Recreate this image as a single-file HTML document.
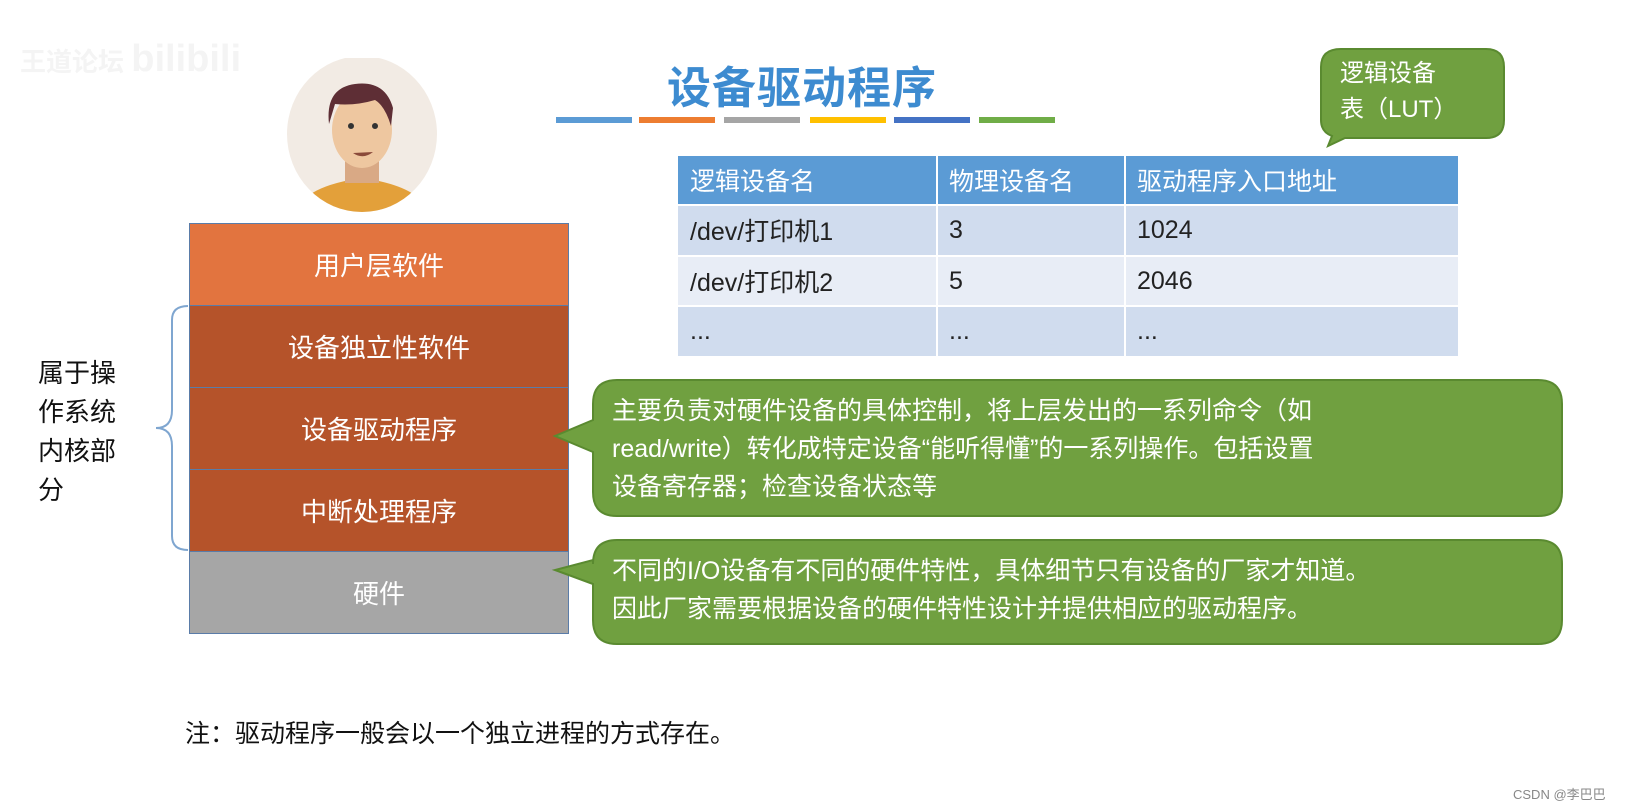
<!DOCTYPE html>
<html><head><meta charset="utf-8">
<style>
*{margin:0;padding:0;box-sizing:border-box}
body{width:1628px;height:809px;background:#fff;position:relative;overflow:hidden;font-family:"Liberation Sans","Noto Sans CJK SC",sans-serif}
.a{position:absolute}
.row{position:absolute;left:189px;width:380px;color:#fff;font-size:26px;display:flex;align-items:center;justify-content:center;border:1px solid #5a7ca8;border-top:none}
.cell{position:absolute;font-size:25px;display:flex;align-items:center;padding-left:12px;color:#222}
.t{color:#fff;font-size:25px;line-height:38px}
</style></head><body>
<div class="a" style="left:20px;top:38px;font-size:26px;color:#f4f4f4;font-weight:bold">王道论坛 <span style="font-size:38px">bilibili</span></div>
<div class="a" style="left:667px;top:52px;font-size:44px;color:#3d8bd0;font-weight:bold;letter-spacing:1px">设备驱动程序</div>
<div class="a" style="left:556px;top:117px;width:76px;height:6px;background:#5b9bd5"></div>
<div class="a" style="left:639px;top:117px;width:76px;height:6px;background:#ed7d31"></div>
<div class="a" style="left:724px;top:117px;width:76px;height:6px;background:#a5a5a5"></div>
<div class="a" style="left:810px;top:117px;width:76px;height:6px;background:#ffc000"></div>
<div class="a" style="left:894px;top:117px;width:76px;height:6px;background:#4472c4"></div>
<div class="a" style="left:979px;top:117px;width:76px;height:6px;background:#70ad47"></div>
<svg class="a" style="left:285px;top:58px" width="154" height="154" viewBox="0 0 154 154">
<defs><clipPath id="c"><ellipse cx="77" cy="76" rx="75" ry="78"/></clipPath></defs>
<ellipse cx="77" cy="76" rx="75" ry="78" fill="#f2ebe4"/>
<g clip-path="url(#c)">
<path d="M10 154 Q20 128 77 120 Q134 128 144 154Z" fill="#e3a03a"/>
<rect x="60" y="95" width="34" height="30" fill="#d9a985"/>
<ellipse cx="77" cy="72" rx="30" ry="38" fill="#eec7a0"/>
<path d="M44 66 Q40 30 70 26 Q100 22 108 50 L106 68 Q100 48 90 42 Q70 48 50 46 Z" fill="#5e2e35"/>
<circle cx="66" cy="68" r="3" fill="#333"/><circle cx="90" cy="68" r="3" fill="#333"/>
<path d="M68 95 Q78 102 88 94 Z" fill="#8a4a3a"/>
</g></svg>
<div class="row" style="top:223px;height:83px;background:#e2743f;border-top:1px solid #5a7ca8">用户层软件</div>
<div class="row" style="top:306px;height:82px;background:#b5532a">设备独立性软件</div>
<div class="row" style="top:388px;height:82px;background:#b5532a">设备驱动程序</div>
<div class="row" style="top:470px;height:82px;background:#b5532a">中断处理程序</div>
<div class="row" style="top:552px;height:82px;background:#a6a6a6">硬件</div>
<svg class="a" style="left:150px;top:300px" width="45" height="256"><path d="M38 6 Q22 6 22 20 L22 110 Q22 128 6 128 Q22 128 22 146 L22 236 Q22 250 38 250" fill="none" stroke="#7fa6d0" stroke-width="2"/></svg>
<div class="a" style="left:38px;top:354px;font-size:26px;line-height:39px;color:#111;width:100px">属于操<br>作系统<br>内核部<br>分</div>
<div class="a" style="left:678px;top:156px;width:780px;height:48px;background:#5b9bd5"></div>
<div class="a" style="left:678px;top:204px;width:780px;height:52px;background:#d0dcee"></div>
<div class="a" style="left:678px;top:256px;width:780px;height:50px;background:#e8edf6"></div>
<div class="a" style="left:678px;top:306px;width:780px;height:50px;background:#d0dcee"></div>
<div class="a" style="left:936px;top:156px;width:2px;height:200px;background:#fff"></div>
<div class="a" style="left:1124px;top:156px;width:2px;height:200px;background:#fff"></div>
<div class="a" style="left:678px;top:204px;width:780px;height:2px;background:#fff"></div>
<div class="a" style="left:678px;top:255px;width:780px;height:2px;background:#fff"></div>
<div class="a" style="left:678px;top:305px;width:780px;height:2px;background:#fff"></div>
<div class="cell" style="left:678px;top:156px;height:48px;color:#fff">逻辑设备名</div>
<div class="cell" style="left:937px;top:156px;height:48px;color:#fff">物理设备名</div>
<div class="cell" style="left:1125px;top:156px;height:48px;color:#fff">驱动程序入口地址</div>
<div class="cell" style="left:678px;top:204px;height:52px">/dev/打印机1</div>
<div class="cell" style="left:937px;top:204px;height:52px">3</div>
<div class="cell" style="left:1125px;top:204px;height:52px">1024</div>
<div class="cell" style="left:678px;top:256px;height:50px">/dev/打印机2</div>
<div class="cell" style="left:937px;top:256px;height:50px">5</div>
<div class="cell" style="left:1125px;top:256px;height:50px">2046</div>
<div class="cell" style="left:678px;top:306px;height:50px">...</div>
<div class="cell" style="left:937px;top:306px;height:50px">...</div>
<div class="cell" style="left:1125px;top:306px;height:50px">...</div>
<svg class="a" style="left:0;top:0" width="1628" height="809">
<path d="M1341 49 H1486 Q1504 49 1504 67 V120 Q1504 138 1486 138 H1345 L1328 146 L1332 136 Q1321 132 1321 120 V67 Q1321 49 1341 49Z" fill="#70a040" stroke="#5a8a30" stroke-width="2"/>
<path d="M617 380 H1538 Q1562 380 1562 404 V492 Q1562 516 1538 516 H617 Q593 516 593 492 V452 L555 436 L593 420 V404 Q593 380 617 380Z" fill="#70a040" stroke="#5a8a30" stroke-width="2"/>
<path d="M617 540 H1538 Q1562 540 1562 564 V620 Q1562 644 1538 644 H617 Q593 644 593 620 V584 L555 570 L593 560 V564 Q593 540 617 540Z" fill="#70a040" stroke="#5a8a30" stroke-width="2"/>
</svg>
<div class="a t" style="left:1340px;top:56px;font-size:24px;line-height:36px">逻辑设备<br>表（LUT）</div>
<div class="a t" style="left:612px;top:392px">主要负责对硬件设备的具体控制，将上层发出的一系列命令（如<br>read/write）转化成特定设备“能听得懂”的一系列操作。包括设置<br>设备寄存器；检查设备状态等</div>
<div class="a t" style="left:612px;top:552px">不同的I/O设备有不同的硬件特性，具体细节只有设备的厂家才知道。<br>因此厂家需要根据设备的硬件特性设计并提供相应的驱动程序。</div>
<div class="a" style="left:185px;top:714px;font-size:25px;color:#111">注：驱动程序一般会以一个独立进程的方式存在。</div>
<div class="a" style="left:1513px;top:784px;font-size:13px;color:#888">CSDN @李巴巴</div>
</body></html>
